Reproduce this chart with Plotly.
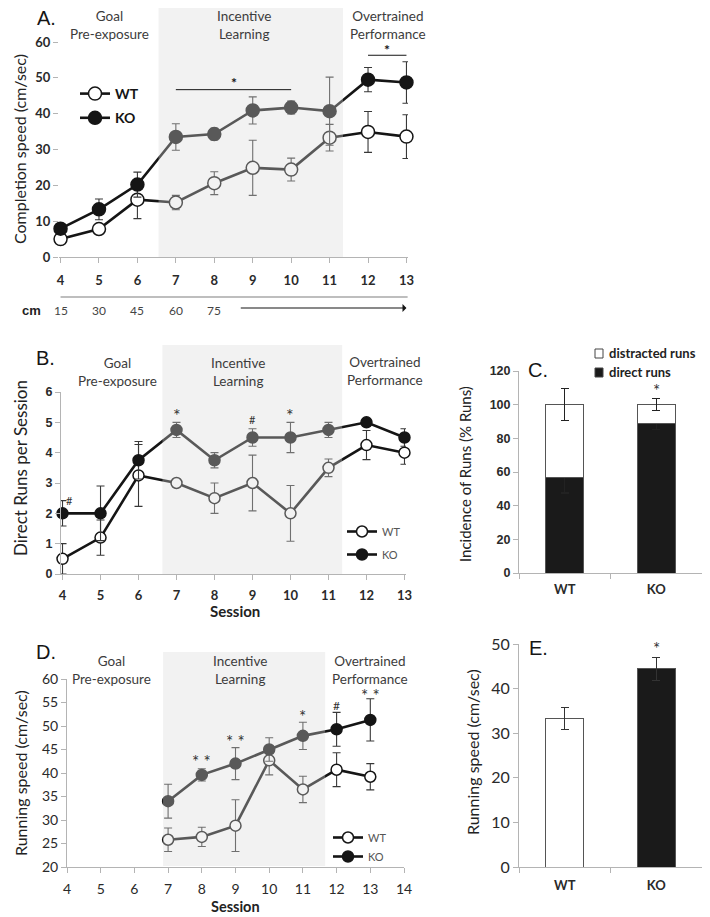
import plotly.graph_objects as go

W, H = 710, 917
OFF = 8  # page body margin in the browser


def px(x):
    return (x - OFF) / W


def py(y):
    return 1 - (y - OFF) / H


# ---- data ----
sessions = [4, 5, 6, 7, 8, 9, 10, 11, 12, 13]

# A. completion speed (cm/sec)
a_wt = [5.0, 7.8, 16.0, 15.2, 20.6, 24.9, 24.4, 33.3, 34.9, 33.6]
a_wt_err = [0.8, 0.8, 5.3, 2.0, 3.2, 7.7, 3.2, 3.7, 5.7, 6.1]
a_ko = [7.9, 13.3, 20.2, 33.5, 34.3, 40.9, 41.7, 40.7, 49.5, 48.7]
a_ko_err = [0.8, 2.9, 3.5, 3.7, 1.6, 3.8, 1.8, 9.5, 3.4, 5.8]
cm_sessions = [4, 5, 6, 7, 8]
cm_labels = ["15", "30", "45", "60", "75"]

# B. direct runs per session
b_wt = [0.5, 1.2, 3.25, 3.0, 2.5, 3.0, 2.0, 3.5, 4.25, 4.0]
b_wt_err = [0.5, 0.58, 1.02, 0.0, 0.5, 0.92, 0.92, 0.29, 0.48, 0.38]
b_ko = [2.0, 2.0, 3.75, 4.75, 3.75, 4.5, 4.5, 4.75, 5.0, 4.5]
b_ko_err = [0.42, 0.9, 0.62, 0.25, 0.25, 0.29, 0.5, 0.25, 0.0, 0.29]

# C. incidence of runs (% runs)
groups = ["WT", "KO"]
c_direct = [57, 89]
c_direct_err = [9.5, 3.5]
c_distracted = [43, 11]
c_distracted_err = [9.5, 3.5]

# D. running speed (cm/sec)
d_sessions = [7, 8, 9, 10, 11, 12, 13]
d_wt = [25.8, 26.4, 28.8, 42.7, 36.5, 40.7, 39.2]
d_wt_err = [2.5, 2.05, 5.5, 3.1, 2.8, 3.6, 2.8]
d_ko = [34.0, 39.6, 42.0, 45.0, 47.9, 49.3, 51.3]
d_ko_err = [3.6, 1.3, 3.4, 2.5, 2.9, 3.6, 4.5]

# E. running speed (cm/sec)
e_speed = [33.3, 44.4]
e_err = [2.5, 2.6]

# significance marks: (x, y, text)
a_stars = [(8.5, 48.8, "*"), (12.5, 57.9, "*")]
b_marks = [(4, 2.42, "#"), (7, 5.24, "*"), (9, 5.1, "#"), (10, 5.24, "*")]
d_marks = [(8, 42.5, "* *"), (9, 46.7, "* *"), (11, 52.1, "*"), (12, 54.3, "#"), (13, 56.5, "* *")]

INK = "#151515"
GREY = "#b4b4b4"
SHADE = "rgba(218,218,218,0.35)"
BODY = "Lato, Arial, sans-serif"

fig = go.Figure()


def add_pair(xs, wt, wt_err, ko, ko_err, xa, ya, legend, msize):
    for name, ys, err, fill in (("WT", wt, wt_err, "white"), ("KO", ko, ko_err, INK)):
        fig.add_trace(go.Scatter(
            x=xs, y=ys, mode="lines+markers", name=name,
            xaxis=xa, yaxis=ya, legend=legend, legendgroup=legend + name,
            line=dict(color=INK, width=2.6),
            marker=dict(size=msize, color=fill, line=dict(color=INK, width=1.5)),
            error_y=dict(type="data", array=err, color="#383838", thickness=1.1, width=4),
            cliponaxis=False,
        ))


add_pair(sessions, a_wt, a_wt_err, a_ko, a_ko_err, "x", "y", "legend", 13)
add_pair(sessions, b_wt, b_wt_err, b_ko, b_ko_err, "x2", "y2", "legend2", 11)
add_pair(d_sessions, d_wt, d_wt_err, d_ko, d_ko_err, "x4", "y4", "legend3", 11)

# C stacked bars
fig.add_trace(go.Bar(
    x=groups, y=c_direct, name="direct runs", xaxis="x3", yaxis="y3", showlegend=False,
    width=0.41, marker=dict(color="#1a1a1a", line=dict(color="#555", width=1)),
    error_y=dict(type="data", array=c_direct_err, color="#222", thickness=1.1, width=4),
))
fig.add_trace(go.Bar(
    x=groups, y=c_distracted, name="distracted runs", xaxis="x3", yaxis="y3", showlegend=False,
    width=0.41, marker=dict(color="white", line=dict(color="#555", width=1)),
    error_y=dict(type="data", array=c_distracted_err, color="#222", thickness=1.1, width=4),
))

# E bars
fig.add_trace(go.Bar(
    x=groups, y=e_speed, xaxis="x5", yaxis="y5", showlegend=False,
    width=0.41, marker=dict(color=["white", "#1a1a1a"], line=dict(color="#555", width=1)),
    error_y=dict(type="data", array=e_err, color="#333", thickness=1.1, width=4),
))

axis_style = dict(showline=True, linecolor=GREY, linewidth=1, ticks="outside", tickcolor=GREY,
                  ticklen=5, showgrid=False, zeroline=False, automargin=False)
tick_bold = dict(family=BODY, size=13, color="#2a2a2a", weight="bold")
tick_arial = dict(family="Liberation Sans, Arial", size=12.5, color="#2a2a2a", weight="bold")


def leg(cx, cy, size, color, gap=0, bold=False):
    return dict(x=px(cx - 20), y=py(cy), xanchor="left", yanchor="middle", tracegroupgap=gap,
                bgcolor="rgba(0,0,0,0)",
                font=dict(family=BODY, size=size, color=color, weight="bold" if bold else "normal"))


fig.update_layout(
    width=W, height=H, margin=dict(l=0, r=0, t=0, b=0, autoexpand=False),
    paper_bgcolor="white", plot_bgcolor="rgba(0,0,0,0)",
    barmode="stack", font=dict(family=BODY, color="#222"),
    xaxis=dict(axis_style, domain=[px(59), px(408)], range=[3.96, 13.04], tickvals=sessions,
               anchor="y", tickfont=tick_bold, ticklabelstandoff=6),
    yaxis=dict(axis_style, domain=[py(257), py(42)], range=[0, 60], dtick=10, anchor="x",
               tickfont=tick_bold, showline=False),
    xaxis2=dict(axis_style, domain=[px(61), px(406)], range=[3.96, 13.04], tickvals=sessions,
                anchor="y2", tickfont=tick_bold, ticklabelstandoff=4),
    yaxis2=dict(axis_style, domain=[py(574), py(392)], range=[0, 6], dtick=1, anchor="x2",
                tickfont=tick_arial),
    xaxis3=dict(axis_style, domain=[px(519), px(702)], anchor="y3", tickson="boundaries",
                tickfont=tick_bold, ticklabelstandoff=4),
    yaxis3=dict(axis_style, domain=[py(573), py(371)], range=[0, 120], dtick=20, anchor="x3",
                tickfont=tick_arial),
    xaxis4=dict(axis_style, domain=[px(67), px(404)], range=[4, 14], dtick=1, anchor="y4",
                tickfont=dict(family=BODY, size=14, color="#2a2a2a"), ticklabelstandoff=4),
    yaxis4=dict(axis_style, domain=[py(867), py(679)], range=[20, 60], dtick=5, anchor="x4",
                tickfont=dict(family=BODY, size=14, color="#2a2a2a")),
    xaxis5=dict(axis_style, domain=[px(519), px(702)], anchor="y5", tickson="boundaries",
                tickfont=tick_bold, ticklabelstandoff=6),
    yaxis5=dict(axis_style, domain=[py(867), py(644)], range=[0, 50], dtick=10, anchor="x5",
                tickfont=dict(family=BODY, size=16, color="#2a2a2a")),
    legend=leg(95, 106, 14, INK, gap=3, bold=True),
    legend2=leg(362, 543, 11, "#555", gap=4),
    legend3=leg(348, 847, 11, "#555"),
)

shapes = [
    # phase shading (drawn over the traces, as in the original)
    dict(type="rect", xref="x", yref="paper", x0=6.55, x1=11.35, y0=py(257), y1=py(2),
         fillcolor=SHADE, line_width=0, layer="above"),
    dict(type="rect", xref="x2", yref="paper", x0=6.63, x1=11.36, y0=py(574), y1=py(345),
         fillcolor=SHADE, line_width=0, layer="above"),
    dict(type="rect", xref="x4", yref="paper", x0=6.85, x1=11.66, y0=py(866), y1=py(652),
         fillcolor=SHADE, line_width=0, layer="above"),
    # significance bars in A
    dict(type="line", xref="x", yref="y", x0=7, x1=10, y0=46.7, y1=46.7,
         line=dict(color=INK, width=1), layer="above"),
    dict(type="line", xref="x", yref="y", x0=12, x1=13, y0=56.3, y1=56.3,
         line=dict(color=INK, width=1), layer="above"),
    # distance scale line under A
    dict(type="line", xref="x", yref="paper", x0=4, x1=13.03, y0=py(297), y1=py(297),
         line=dict(color="#a8a8a8", width=1.5)),
    # C legend swatches
    dict(type="rect", xref="paper", yref="paper", x0=px(595), x1=px(603), y0=py(358), y1=py(349),
         fillcolor="white", line=dict(color="#444", width=1)),
    dict(type="rect", xref="paper", yref="paper", x0=px(595), x1=px(603), y0=py(377), y1=py(368),
         fillcolor="#1a1a1a", line=dict(color="#444", width=1)),
]
fig.update_layout(shapes=shapes)

ann = []


def note(x, y, text, font, xref="paper", yref="paper", xanchor="center", **kw):
    ann.append(dict(x=x, y=y, xref=xref, yref=yref, text=text, showarrow=False,
                    xanchor=xanchor, yanchor="middle", font=font, **kw))


def heading(x, y, text):
    note(px(x), py(y), text, dict(family=BODY, size=13.5, color="#3c3c3c"), align="center")


heading(109, 25, "Goal<br>Pre-exposure")
heading(244, 25, "Incentive<br>Learning")
heading(388, 25, "Overtrained<br>Performance")
heading(118, 372, "Goal<br>Pre-exposure")
heading(238, 372, "Incentive<br>Learning")
heading(385, 371, "Overtrained<br>Performance")
heading(111, 670, "Goal<br>Pre-exposure")
heading(240, 670, "Incentive<br>Learning")
heading(370, 670, "Overtrained<br>Performance")

for lx, ly, letter in ((46, 18, "A."), (45, 358, "B."), (46, 652, "D."), (538, 370, "C."), (538, 648, "E.")):
    note(px(lx), py(ly), letter, dict(family="Liberation Sans, Arial", size=20, color=INK))


def ytitle(x, y, text, size):
    note(px(x), py(y), text, dict(family=BODY, size=size, color="#222"), textangle=-90)


ytitle(19, 149, "Completion speed (cm/sec)", 16)
ytitle(20, 468, "Direct Runs per Session", 17)
ytitle(465, 474, "Incidence of Runs (% Runs)", 15)
ytitle(20, 773, "Running speed (cm/sec)", 16)
ytitle(472, 752, "Running speed (cm/sec)", 16)

note(px(235), py(611), "Session", dict(family=BODY, size=15, color="#222", weight="bold"))
note(px(235), py(906), "Session", dict(family=BODY, size=14.5, color="#222", weight="bold"))

# C legend text
note(px(607), py(353), "distracted runs", dict(family=BODY, size=13, color="#222", weight="bold"),
     xanchor="left")
note(px(607), py(372), "direct runs", dict(family=BODY, size=13, color="#222", weight="bold"),
     xanchor="left")

# distance row under A
note(px(32), py(310), "cm", dict(family="Liberation Sans, Arial", size=13, color="#222", weight="bold"))
for s, lab in zip(cm_sessions, cm_labels):
    note(s, py(311), lab, dict(family=BODY, size=12, color="#444"), xref="x")
ann.append(dict(x=13, y=py(308), xref="x", yref="paper", ax=8.65, axref="x", ay=0, ayref="pixel",
                text="", showarrow=True, arrowhead=1, arrowsize=1.1, arrowwidth=1.2, arrowcolor=INK))

for x, y, t in a_stars:
    note(x, y, t, dict(family=BODY, size=14, color=INK, weight="bold"), xref="x", yref="y")
for x, y, t in b_marks:
    big = t == "*"
    note(x, y, t, dict(family=BODY, size=18 if big else 11, color="#333"), xref="x2", yref="y2",
         xshift=7 if (x == 4 and not big) else 0)
for x, y, t in d_marks:
    big = t != "#"
    note(x, y, t, dict(family=BODY, size=17 if big else 12, color="#333"), xref="x4", yref="y4")
note("KO", 108.5, "*", dict(family=BODY, size=17, color="#333"), xref="x3", yref="y3")
note("KO", 49.0, "*", dict(family=BODY, size=17, color="#333"), xref="x5", yref="y5")

fig.update_layout(annotations=ann)

fig.write_html("out.html")
